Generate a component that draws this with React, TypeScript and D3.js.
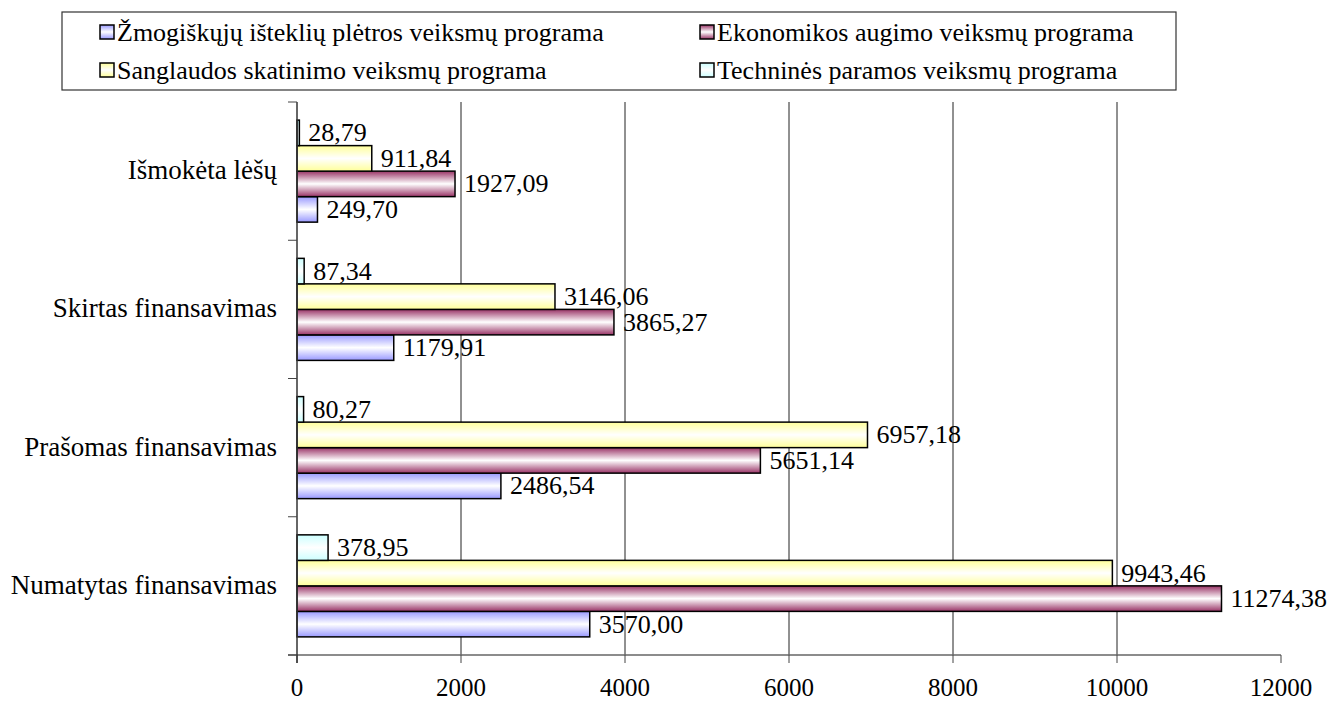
import React from 'react';
import * as d3 from 'd3';

// categories top to bottom
const categories = ['Išmokėta lėšų', 'Skirtas finansavimas', 'Prašomas finansavimas', 'Numatytas finansavimas'];
// series names (legend order)
const seriesNames = [
  'Žmogiškųjų išteklių plėtros veiksmų programa',
  'Ekonomikos augimo veiksmų programa',
  'Sanglaudos skatinimo veiksmų programa',
  'Techninės paramos veiksmų programa',
];
const seriesColors = ['#9999ff', '#993366', '#ffff99', '#ccffff'];

const zmogiskuju = [249.7, 1179.91, 2486.54, 3570.0];
const ekonomikos = [1927.09, 3865.27, 5651.14, 11274.38];
const sanglaudos = [911.84, 3146.06, 6957.18, 9943.46];
const technines = [28.79, 87.34, 80.27, 378.95];
const seriesValues = [zmogiskuju, ekonomikos, sanglaudos, technines];

const xTicks = [0, 2000, 4000, 6000, 8000, 10000, 12000];

const W = 1339;
const H = 702;
const FONT = 'Times New Roman';

const x = d3.scaleLinear().domain([0, 12000]).range([297, 1281]);
const y = d3.scaleBand().domain(categories).range([102, 655]).padding(0);
// bars inside a band: top to bottom Techninės, Sanglaudos, Ekonomikos, Žmogiškųjų
const inner = d3.scaleBand<number>()
  .domain([3, 2, 1, 0])
  .range([0, y.bandwidth()])
  .paddingInner(0)
  .paddingOuter(0.71);

const fmt = (v: number) => d3.format('.2f')(v).replace('.', ',');

const legendPos = [
  { x: 100, y: 32 },
  { x: 700, y: 32 },
  { x: 100, y: 70 },
  { x: 700, y: 70 },
];

const App = () => {
  const bounds = categories.map(c => y(c) as number).concat([655]);
  return (
    <svg width={W} height={H} fontFamily={FONT}
      style={{ position: 'absolute', left: 0, top: 0, background: '#fff', fontFamily: 'Times New Roman, serif' }}>
      <defs>
        {seriesColors.map((c, i) => (
          <linearGradient key={i} id={`grad${i}`} x1={0} y1={0} x2={0} y2={1}>
            <stop offset="0%" stopColor={c} />
            <stop offset="50%" stopColor="#ffffff" />
            <stop offset="100%" stopColor={c} />
          </linearGradient>
        ))}
      </defs>

      {/* gridlines */}
      {xTicks.filter(t => t > 0 && t < 12000).map(t => (
        <line key={t} x1={x(t)} x2={x(t)} y1={102} y2={655} stroke="#222" strokeWidth={1} />
      ))}

      {/* bars and value labels */}
      {categories.map((cat, ci) => (
        <g key={cat} transform={`translate(0,${y(cat)})`}>
          {seriesValues.map((vals, si) => {
            const v = vals[ci];
            const by = inner(si) as number;
            return (
              <g key={si}>
                <rect x={x(0)} y={by} width={x(v) - x(0)} height={inner.bandwidth()}
                  fill={`url(#grad${si})`} stroke="#000" strokeWidth={1.5} />
                <text x={x(v) + 9} y={by + inner.bandwidth() / 2} dy="0.33em"
                  fontFamily={FONT} fontSize={26} fill="#000">{fmt(v)}</text>
              </g>
            );
          })}
        </g>
      ))}

      {/* x axis */}
      <line x1={288} x2={x(12000)} y1={655} y2={655} stroke="#666" strokeWidth={1.5} />
      {xTicks.map(t => (
        <g key={t}>
          <line x1={x(t)} x2={x(t)} y1={655} y2={663} stroke="#444" strokeWidth={1} />
          <text x={x(t)} y={696} textAnchor="middle" fontFamily={FONT} fontSize={25}>{String(t)}</text>
        </g>
      ))}

      {/* y axis */}
      <line x1={x(0)} x2={x(0)} y1={102} y2={663} stroke="#333" strokeWidth={1.5} />
      {bounds.map((b, i) => (
        <line key={i} x1={288} x2={x(0)} y1={b} y2={b} stroke="#444" strokeWidth={1} />
      ))}
      {categories.map(c => (
        <text key={c} x={277} y={(y(c) as number) + y.bandwidth() / 2} dy="0.3em"
          textAnchor="end" fontFamily={FONT} fontSize={27}>{c}</text>
      ))}

      {/* legend */}
      <rect x={62} y={12} width={1114} height={78} fill="#fff" stroke="#333" strokeWidth={1.2} />
      {seriesNames.map((name, i) => {
        const p = legendPos[i];
        return (
          <g key={name}>
            <rect x={p.x} y={p.y - 7} width={14} height={14} fill={`url(#grad${i})`}
              stroke="#000" strokeWidth={1.5} />
            <text x={p.x + 17} y={p.y} dy="0.33em" fontFamily={FONT} fontSize={26}>{name}</text>
          </g>
        );
      })}
    </svg>
  );
};

export default App;
